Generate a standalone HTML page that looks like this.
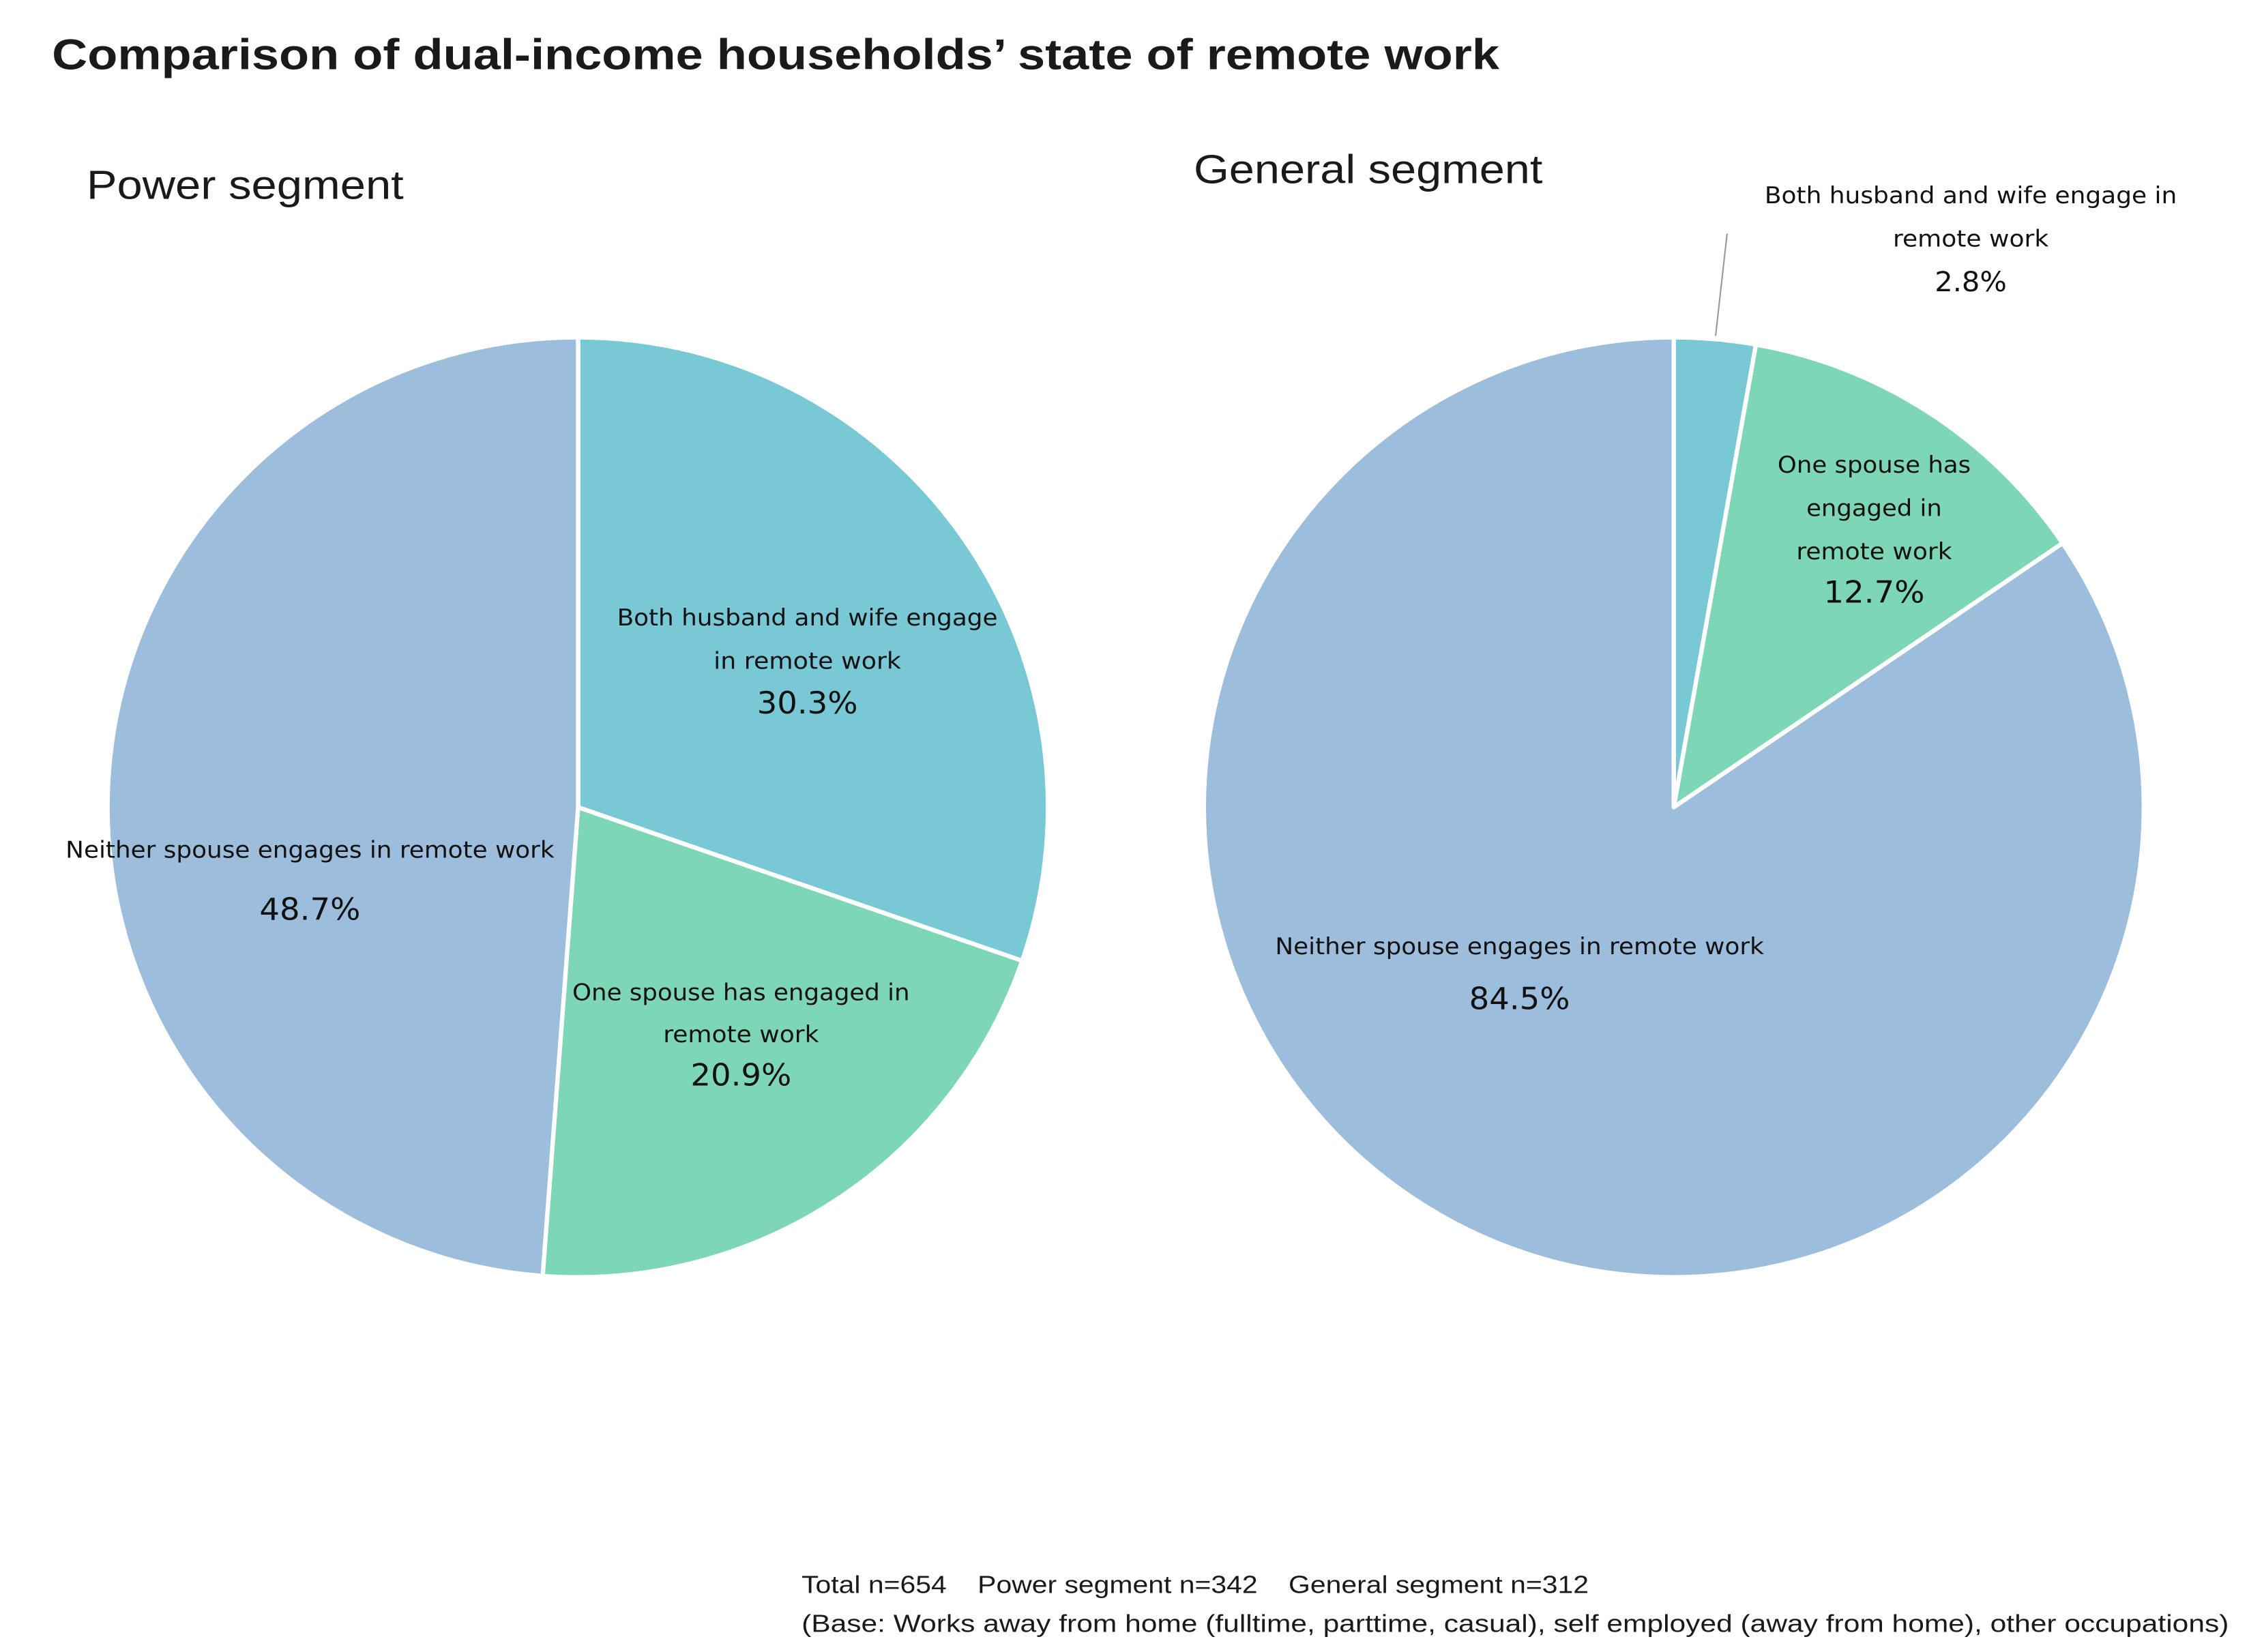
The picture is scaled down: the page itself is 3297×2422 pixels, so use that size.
<!DOCTYPE html>
<html><head><meta charset="utf-8"><style>html,body{margin:0;padding:0;background:#fff}svg{display:block}</style></head>
<body>
<svg width="3297" height="2422" viewBox="0 0 1560 1146" xmlns="http://www.w3.org/2000/svg" font-family="'DejaVu Sans', 'Liberation Sans', sans-serif">
<rect width="1560" height="1146" fill="#fff"/>
<text x="36" y="48" font-size="30" font-weight="bold" fill="#1a1a1a" textLength="1004" lengthAdjust="spacingAndGlyphs" font-family="'Liberation Sans', sans-serif">Comparison of dual-income households’ state of remote work</text>
<text x="60" y="138" font-size="28" fill="#1a1a1a" textLength="220" lengthAdjust="spacingAndGlyphs" font-family="'Liberation Sans', sans-serif">Power segment</text>
<text x="828" y="127" font-size="28" fill="#1a1a1a" textLength="242" lengthAdjust="spacingAndGlyphs" font-family="'Liberation Sans', sans-serif">General segment</text>
<g stroke="#fff" stroke-width="3" stroke-linejoin="round">
<path d="M401,560 L401,234 A326,326 0 0 1 709,666.5 Z" fill="#78C8D6"/>
<path d="M401,560 L709,666.5 A326,326 0 0 1 376.4,885.1 Z" fill="#7DD7B6"/>
<path d="M401,560 L376.4,885.1 A326,326 0 0 1 401,234 Z" fill="#9DBDDC"/>
<path d="M1161,560 L1161,234 A326,326 0 0 1 1218,239 Z" fill="#78C8D6"/>
<path d="M1161,560 L1218,239 A326,326 0 0 1 1430.7,376.8 Z" fill="#7DD7B6"/>
<path d="M1161,560 L1430.7,376.8 A326,326 0 1 1 1161,234 Z" fill="#9DBDDC"/>
</g>
<line x1="1190" y1="233" x2="1198" y2="162" stroke="#999" stroke-width="1"/>
<g fill="#111" font-size="16" text-anchor="middle" lengthAdjust="spacingAndGlyphs">
<text x="560" y="434" textLength="264" lengthAdjust="spacingAndGlyphs">Both husband and wife engage</text>
<text x="560" y="464" textLength="130" lengthAdjust="spacingAndGlyphs">in remote work</text>
<text x="560" y="495" font-size="21" textLength="70" lengthAdjust="spacingAndGlyphs">30.3%</text>
<text x="215" y="595" textLength="339" lengthAdjust="spacingAndGlyphs">Neither spouse engages in remote work</text>
<text x="215" y="638" font-size="21" textLength="70" lengthAdjust="spacingAndGlyphs">48.7%</text>
<text x="514" y="694" textLength="234" lengthAdjust="spacingAndGlyphs">One spouse has engaged in</text>
<text x="514" y="723" textLength="108" lengthAdjust="spacingAndGlyphs">remote work</text>
<text x="514" y="753" font-size="21" textLength="70" lengthAdjust="spacingAndGlyphs">20.9%</text>
<text x="1367" y="141" textLength="286" lengthAdjust="spacingAndGlyphs">Both husband and wife engage in</text>
<text x="1367" y="171" textLength="108" lengthAdjust="spacingAndGlyphs">remote work</text>
<text x="1367" y="202" font-size="19" textLength="50" lengthAdjust="spacingAndGlyphs">2.8%</text>
<text x="1300" y="328" textLength="134" lengthAdjust="spacingAndGlyphs">One spouse has</text>
<text x="1300" y="358" textLength="94" lengthAdjust="spacingAndGlyphs">engaged in</text>
<text x="1300" y="388" textLength="108" lengthAdjust="spacingAndGlyphs">remote work</text>
<text x="1300" y="418" font-size="21" textLength="70" lengthAdjust="spacingAndGlyphs">12.7%</text>
<text x="1054" y="662" textLength="339" lengthAdjust="spacingAndGlyphs">Neither spouse engages in remote work</text>
<text x="1054" y="700" font-size="21" textLength="70" lengthAdjust="spacingAndGlyphs">84.5%</text>
</g>
<g fill="#1a1a1a" font-size="17" font-family="'Liberation Sans', sans-serif">
<text x="556" y="1105" xml:space="preserve" textLength="546" lengthAdjust="spacingAndGlyphs">Total n=654    Power segment n=342    General segment n=312</text>
<text x="556" y="1132" textLength="990" lengthAdjust="spacingAndGlyphs">(Base: Works away from home (fulltime, parttime, casual), self employed (away from home), other occupations)</text>
</g>
</svg>
</body></html>
